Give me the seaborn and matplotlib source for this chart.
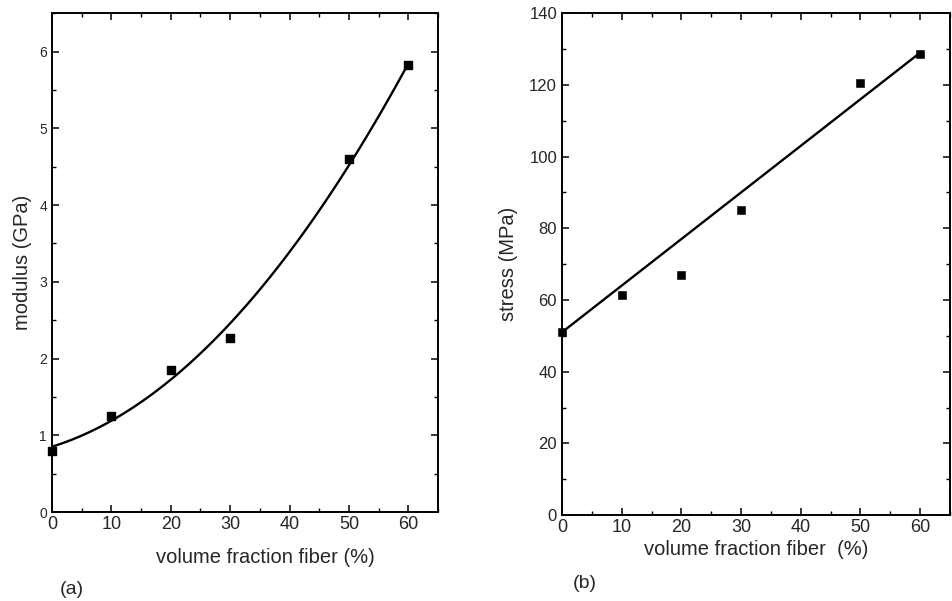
import numpy as np
import pandas as pd
import matplotlib
matplotlib.use("Agg")
import matplotlib.pyplot as plt
from matplotlib.ticker import MultipleLocator
import seaborn as sns

# ---- data ----
fiber_pct = [0, 10, 20, 30, 50, 60]
modulus_gpa = [0.80, 1.25, 1.85, 2.27, 4.60, 5.82]
stress_mpa = [51.0, 61.5, 67.0, 85.0, 120.5, 128.5]
stress_fit_x = [0, 60]
stress_fit_y = [51.0, 129.0]

sns.set_style("ticks")
plt.rcParams['font.family'] = ['Liberation Sans', 'DejaVu Sans']

fig = plt.figure(figsize=(9.52, 6.01), dpi=100)
axA = fig.add_axes([0.0546, 0.148, 0.4055, 0.830])
axB = fig.add_axes([0.5903, 0.143, 0.4076, 0.835])

dfA = pd.DataFrame({"x": fiber_pct, "y": modulus_gpa})
dfB = pd.DataFrame({"x": fiber_pct, "y": stress_mpa})

sns.regplot(data=dfA, x="x", y="y", order=2, ci=None, ax=axA, color="black",
            marker="s", scatter_kws={"s": 28, "zorder": 3, "clip_on": False,
                                     "alpha": 1, "edgecolor": "black"},
            line_kws={"lw": 1.7})
sns.scatterplot(data=dfB, x="x", y="y", ax=axB, color="black", marker="s",
                s=28, edgecolor="black", zorder=3, clip_on=False)
sns.lineplot(x=stress_fit_x, y=stress_fit_y, ax=axB, color="black", lw=1.7)

for ax in (axA, axB):
    ax.set_xlim(0, 65)
    ax.xaxis.set_major_locator(MultipleLocator(10))
    ax.xaxis.set_minor_locator(MultipleLocator(5))
    ax.tick_params(which="both", direction="in", top=True, right=True, color="black")
    ax.tick_params(which="major", length=5, width=1.1)
    ax.tick_params(which="minor", length=3, width=1)
    ax.tick_params(axis="x", labelsize=13, pad=3)
    for s in ax.spines.values():
        s.set_color("black")
        s.set_linewidth(1.4)

axA.set_ylim(0, 6.5)
axA.yaxis.set_major_locator(MultipleLocator(1))
axA.yaxis.set_minor_locator(MultipleLocator(0.5))
axA.tick_params(axis="y", labelsize=10)
axA.set_xticks([0, 10, 20, 30, 40, 50, 60])
axA.set_yticks([0, 1, 2, 3, 4, 5, 6])
axA.set_xlabel("volume fraction fiber (%)", fontsize=14.5, labelpad=9)
axA.xaxis.set_label_coords(0.552, -0.072)
axA.set_ylabel("modulus (GPa)", fontsize=14.5, labelpad=5)

axB.set_ylim(0, 140)
axB.yaxis.set_major_locator(MultipleLocator(20))
axB.yaxis.set_minor_locator(MultipleLocator(10))
axB.tick_params(axis="y", labelsize=12)
axB.set_xticks([0, 10, 20, 30, 40, 50, 60])
axB.set_xlabel("volume fraction fiber  (%)", fontsize=14.5, labelpad=3)
axB.set_ylabel("stress (MPa)", fontsize=14.5, labelpad=8)

fig.text(72 / 952, 1 - 590 / 601, "(a)", fontsize=14, ha="center", va="center")
fig.text(585 / 952, 1 - 583 / 601, "(b)", fontsize=14, ha="center", va="center")

fig.savefig("out.png", dpi=100)
